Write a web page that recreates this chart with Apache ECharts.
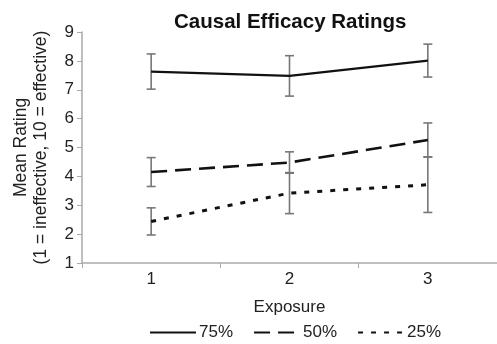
<!DOCTYPE html>
<html>
<head>
<meta charset="utf-8">
<script src="https://cdn.jsdelivr.net/npm/echarts@6/dist/echarts.min.js"></script>
<style>html,body{margin:0;padding:0;background:#fff;}#c{width:497px;height:344px;}</style>
</head>
<body>
<div id="c"></div>
<script>
var categories = ['1', '2', '3'];
var seriesNames = ['75%', '50%', '25%'];
var mean75 = [7.63, 7.48, 8.01];
var err75 = [0.61, 0.70, 0.57];
var mean50 = [4.15, 4.48, 5.26];
var err50 = [0.50, 0.37, 0.59];
var mean25 = [2.44, 3.42, 3.71];
var err25 = [0.47, 0.71, 0.96];

var FONT = 'Liberation Sans, Arial, sans-serif';
var chart = echarts.init(document.getElementById('c'), null, {renderer: 'canvas'});

function errData(means, errs) {
  return means.map(function (m, i) { return [i, m - errs[i], m + errs[i]]; });
}
function errSeries(means, errs) {
  return {
    type: 'custom',
    silent: true,
    z: 1,
    data: errData(means, errs),
    renderItem: function (params, api) {
      var x = api.value(0);
      var lo = api.coord([x, api.value(1)]);
      var hi = api.coord([x, api.value(2)]);
      var hw = 4.5;
      var st = {stroke: '#777', lineWidth: 1.6};
      return {
        type: 'group',
        children: [
          {type: 'line', shape: {x1: hi[0], y1: hi[1], x2: lo[0], y2: lo[1]}, style: st},
          {type: 'line', shape: {x1: hi[0] - hw, y1: hi[1], x2: hi[0] + hw, y2: hi[1]}, style: st},
          {type: 'line', shape: {x1: lo[0] - hw, y1: lo[1], x2: lo[0] + hw, y2: lo[1]}, style: st}
        ]
      };
    }
  };
}
function lineSeries(name, data, type, w) {
  return {
    name: name, type: 'line', data: data, showSymbol: false, symbol: 'none',
    z: 3,
    lineStyle: {color: '#111', width: w, type: type},
    itemStyle: {color: '#111'}
  };
}

chart.setOption({
  animation: false,
  title: {
    text: 'Causal Efficacy Ratings',
    left: 169, top: 7,
    textStyle: {fontFamily: FONT, fontSize: 20.5, fontWeight: 'bold', color: '#111'}
  },
  legend: {
    data: seriesNames,
    left: 144, top: 319,
    itemWidth: 46, itemHeight: 16, itemGap: 20,
    itemStyle: {color: 'transparent', borderWidth: 0, opacity: 0},
    textStyle: {fontFamily: FONT, fontSize: 17, color: '#222', padding: [0, 0, 0, -2]}
  },
  grid: {left: 82, top: 32, width: 422, height: 231, containLabel: false},
  xAxis: {
    type: 'category', data: categories, boundaryGap: true,
    name: 'Exposure', nameLocation: 'middle', nameGap: 36,
    nameTextStyle: {fontFamily: FONT, fontSize: 17, color: '#222'},
    axisLine: {lineStyle: {color: '#aaa', width: 1.5}},
    axisTick: {show: true, length: 5, lineStyle: {color: '#aaa'}},
    axisLabel: {fontFamily: FONT, fontSize: 17, color: '#222', margin: 8},
    splitLine: {show: false}
  },
  yAxis: {
    type: 'value', min: 1, max: 9, interval: 1,
    name: 'Mean Rating\n(1 = ineffective, 10 = effective)',
    nameLocation: 'middle', nameGap: 31,
    nameTextStyle: {fontFamily: FONT, fontSize: 17.5, color: '#222', lineHeight: 20},
    axisLine: {show: true, lineStyle: {color: '#aaa', width: 1.5}},
    axisTick: {show: true, length: 5, lineStyle: {color: '#aaa'}},
    axisLabel: {fontFamily: FONT, fontSize: 17, color: '#222', margin: 8},
    splitLine: {show: false}
  },
  series: [
    lineSeries('75%', mean75, 'solid', 2.2),
    lineSeries('50%', mean50, [16, 8], 2.6),
    lineSeries('25%', mean25, [5, 8], 3),
    errSeries(mean75, err75),
    errSeries(mean50, err50),
    errSeries(mean25, err25)
  ]
});
</script>
</body>
</html>
